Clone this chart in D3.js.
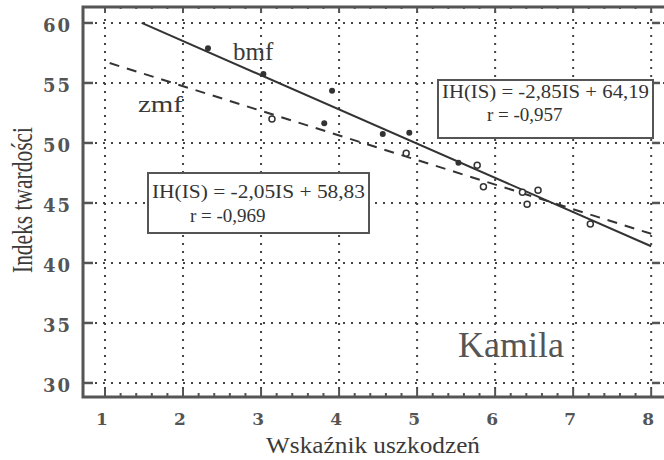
<!DOCTYPE html>
<html>
<head>
<meta charset="utf-8">
<script src="https://cdn.jsdelivr.net/npm/d3@7"></script>
<style>
  body { margin: 0; background: #fff; }
  svg { display: block; }
</style>
</head>
<body>
<script>
// data
var bmfX = [2.32, 3.03, 3.91, 3.81, 4.56, 4.90, 5.53];
var bmfY = [57.9, 55.75, 54.35, 51.65, 50.75, 50.85, 48.35];
var zmfX = [3.14, 4.86, 5.77, 5.85, 6.35, 6.55, 6.41, 7.22];
var zmfY = [52.0, 49.15, 48.15, 46.35, 45.9, 46.05, 44.9, 43.25];

var fitSlope = [-2.85, -2.05];
var fitIntercept = [64.19, 58.83];
var fitFrom = [1.47, 1.06];
var fitTo = [8, 8];

var xTicks = [1, 2, 3, 4, 5, 6, 7, 8];
var yTicks = [30, 35, 40, 45, 50, 55, 60];
var eqText = ["IH(IS) = -2,85IS + 64,19", "IH(IS) = -2,05IS + 58,83"];
var rText = ["r = -0,957", "r = -0,969"];

var w = 664, h = 460;
var ink = "#3a3a3a";

var x = d3.scaleLinear().domain([0.718, 8.19]).range([83, 666]);
var y = d3.scaleLinear().domain([28.83, 61.33]).range([397, 7]);

var svg = d3.select("body").append("svg")
    .attr("width", w)
    .attr("height", h);

svg.append("defs").append("clipPath").attr("id", "plot")
    .append("rect")
    .attr("x", x.range()[0]).attr("y", y.range()[1])
    .attr("width", x.range()[1] - x.range()[0])
    .attr("height", y.range()[0] - y.range()[1]);

// dotted grid
svg.selectAll("line.gx").data(xTicks).enter().append("line")
    .attr("class", "gx")
    .attr("x1", function(d) { return x(d); })
    .attr("x2", function(d) { return x(d); })
    .attr("y1", y.range()[1] + 4)
    .attr("y2", y.range()[0] - 4)
    .attr("stroke", "#444")
    .attr("stroke-width", 2)
    .attr("stroke-dasharray", "2,6");
svg.selectAll("line.gy").data(yTicks).enter().append("line")
    .attr("class", "gy")
    .attr("y1", function(d) { return y(d); })
    .attr("y2", function(d) { return y(d); })
    .attr("x1", x.range()[0] + 4)
    .attr("x2", x.range()[1])
    .attr("stroke", "#444")
    .attr("stroke-width", 2)
    .attr("stroke-dasharray", "2,6");

// axes (ticks inside)
var g = svg.append("g").attr("stroke", "#555");
var minor = d3.range(10, 82, 2).map(function(v) { return v / 10; });
minor.forEach(function(v) {
    var major = xTicks.indexOf(v) >= 0;
    var len = major ? 8 : 4;
    g.append("line")
        .attr("x1", x(v)).attr("x2", x(v))
        .attr("y1", y.range()[0]).attr("y2", y.range()[0] - len)
        .attr("stroke-width", 2);
    g.append("line")
        .attr("x1", x(v)).attr("x2", x(v))
        .attr("y1", y.range()[1]).attr("y2", y.range()[1] + len - 2)
        .attr("stroke-width", 2);
});
yTicks.forEach(function(v) {
    g.append("line")
        .attr("x1", x.range()[0]).attr("x2", x.range()[0] + 10)
        .attr("y1", y(v)).attr("y2", y(v))
        .attr("stroke-width", 2.5);
    g.append("line")
        .attr("x1", x.range()[1] - 6).attr("x2", x.range()[1] - 14)
        .attr("y1", y(v)).attr("y2", y(v))
        .attr("stroke-width", 2.5);
});
svg.append("rect")
    .attr("x", x.range()[0]).attr("y", y.range()[1])
    .attr("width", x.range()[1] - x.range()[0])
    .attr("height", y.range()[0] - y.range()[1])
    .attr("fill", "none")
    .attr("stroke", "#555")
    .attr("stroke-width", 3);

// tick labels
svg.selectAll("text.yl").data(yTicks).enter().append("text")
    .attr("class", "yl")
    .attr("x", 72)
    .attr("y", function(d) { return y(d) + 9; })
    .attr("text-anchor", "end")
    .attr("font-family", "DejaVu Serif")
    .attr("font-weight", "bold")
    .attr("font-size", 18)
    .attr("letter-spacing", 2)
    .attr("fill", "#555")
    .text(function(d) { return d; });
svg.selectAll("text.xl").data(xTicks).enter().append("text")
    .attr("class", "xl")
    .attr("x", function(d) { return x(d) - 3; })
    .attr("y", 425)
    .attr("text-anchor", "middle")
    .attr("font-family", "DejaVu Serif")
    .attr("font-weight", "bold")
    .attr("font-size", 17)
    .attr("fill", "#555")
    .text(function(d) { return d; });

// axis titles
svg.append("text")
    .attr("transform", "translate(32,200) rotate(-90)")
    .attr("text-anchor", "middle")
    .attr("font-family", "Liberation Serif")
    .attr("font-size", 30)
    .attr("textLength", 146)
    .attr("lengthAdjust", "spacingAndGlyphs")
    .attr("fill", ink)
    .text("Indeks twardości");
svg.append("text")
    .attr("x", 373).attr("y", 453)
    .attr("text-anchor", "middle")
    .attr("font-family", "Liberation Serif")
    .attr("font-size", 23)
    .attr("textLength", 214)
    .attr("lengthAdjust", "spacingAndGlyphs")
    .attr("fill", ink)
    .text("Wskaźnik uszkodzeń");

// fit lines
var plot = svg.append("g").attr("clip-path", "url(#plot)");
var line = d3.line().x(function(d) { return x(d[0]); }).y(function(d) { return y(d[1]); });
fitSlope.forEach(function(s, i) {
    var pts = [fitFrom[i], fitTo[i]].map(function(v) { return [v, s * v + fitIntercept[i]]; });
    plot.append("path")
        .attr("d", line(pts))
        .attr("fill", "none")
        .attr("stroke", "#333")
        .attr("stroke-width", 2)
        .attr("stroke-dasharray", i === 1 ? "10,8" : null);
});

// points
plot.selectAll("circle.b").data(bmfX).enter().append("circle")
    .attr("class", "b")
    .attr("cx", function(d) { return x(d); })
    .attr("cy", function(d, i) { return y(bmfY[i]); })
    .attr("r", 3)
    .attr("fill", "#333");
plot.selectAll("circle.z").data(zmfX).enter().append("circle")
    .attr("class", "z")
    .attr("cx", function(d) { return x(d); })
    .attr("cy", function(d, i) { return y(zmfY[i]); })
    .attr("r", 3)
    .attr("fill", "#fff")
    .attr("stroke", "#333")
    .attr("stroke-width", 1.5);

// series labels
svg.append("text").attr("x", 233).attr("y", 60)
    .attr("font-family", "Liberation Serif").attr("font-size", 25)
    .attr("fill", ink).text("bmf");
svg.append("text").attr("x", 138).attr("y", 112)
    .attr("font-family", "Liberation Serif").attr("font-size", 24)
    .attr("textLength", 45).attr("lengthAdjust", "spacingAndGlyphs")
    .attr("fill", ink).text("zmf");
svg.append("text").attr("x", 458).attr("y", 357)
    .attr("font-family", "Liberation Serif").attr("font-size", 36)
    .attr("fill", "#555").text("Kamila");

// equation boxes
var boxX = [438, 148], boxY = [80, 173], boxW = [215, 221], boxH = [58, 60];
var rX = [487, 190], eqY = [98, 198], rY = [121, 222];
eqText.forEach(function(t, i) {
    svg.append("rect")
        .attr("x", boxX[i]).attr("y", boxY[i])
        .attr("width", boxW[i]).attr("height", boxH[i])
        .attr("fill", "#fff")
        .attr("stroke", "#555")
        .attr("stroke-width", 2);
    svg.append("text")
        .attr("x", boxX[i] + 4).attr("y", eqY[i])
        .attr("font-family", "Liberation Serif").attr("font-size", 19)
        .attr("textLength", boxW[i] - 8).attr("lengthAdjust", "spacingAndGlyphs")
        .attr("fill", "#333").text(t);
    svg.append("text")
        .attr("x", rX[i]).attr("y", rY[i])
        .attr("font-family", "Liberation Serif").attr("font-size", 19)
        .attr("fill", "#333").text(rText[i]);
});
</script>
</body>
</html>
